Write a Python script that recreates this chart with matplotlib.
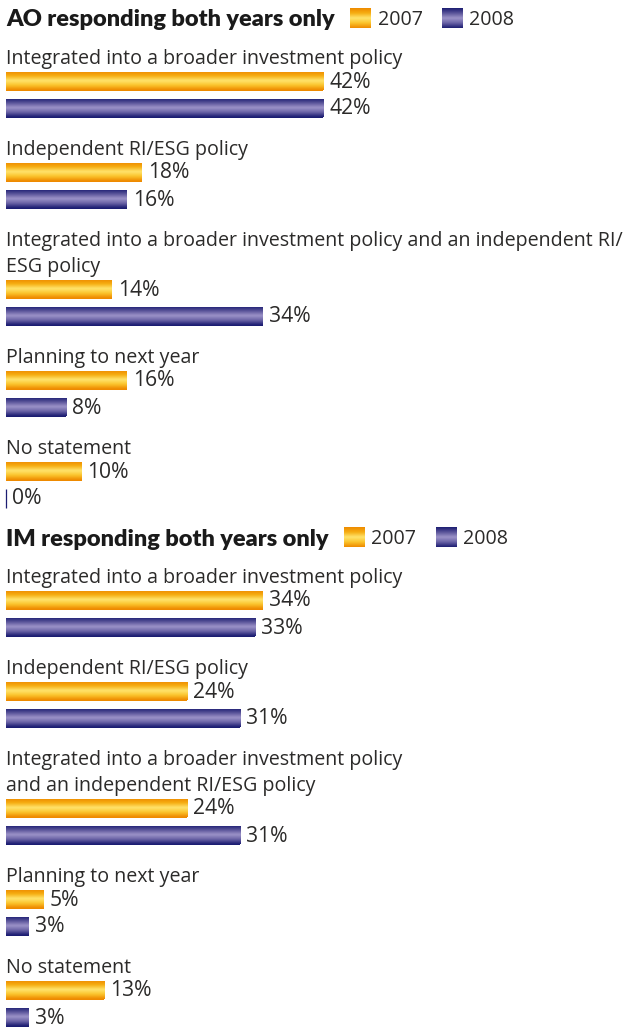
import numpy as np
import matplotlib
matplotlib.use("Agg")
import matplotlib.pyplot as plt
from matplotlib.colors import LinearSegmentedColormap

# ---- data ---------------------------------------------------------------
years = ["2007", "2008"]

ao_title = "AO responding both years only"
ao_categories = [
    "Integrated into a broader investment policy",
    "Independent RI/ESG policy",
    "Integrated into a broader investment policy and an independent RI/\nESG policy",
    "Planning to next year",
    "No statement",
]
ao_2007 = [42, 18, 14, 16, 10]
ao_2008 = [42, 16, 34, 8, 0]

im_title = "IM responding both years only"
im_categories = [
    "Integrated into a broader investment policy",
    "Independent RI/ESG policy",
    "Integrated into a broader investment policy\nand an independent RI/ESG policy",
    "Planning to next year",
    "No statement",
]
im_2007 = [34, 24, 24, 5, 13]
im_2008 = [33, 31, 31, 3, 3]

# ---- styling ------------------------------------------------------------
W, H, DPI = 629, 1027, 100
TEXT = "#2b2a29"
LABEL_FONT = ["Open Sans", "DejaVu Sans"]
TITLE_FONT = ["Lato", "DejaVu Sans"]
LABEL_SIZE = 14.1
VALUE_SIZE = 15.2
TITLE_SIZE = 16.9

orange_cmap = LinearSegmentedColormap.from_list(
    "orange", ["#ee8a00", "#f6ae12", "#ffe46e", "#fbc42c", "#ee8a00"])
purple_cmap = LinearSegmentedColormap.from_list(
    "purple", ["#1c1d72", "#5a5499", "#9d94c9", "#6a63a6", "#1c1d72"])
cmaps = [orange_cmap, purple_cmap]
edge_colors = ["#ee8a00", "#1c1d72"]

fig = plt.figure(figsize=(W / DPI, H / DPI), dpi=DPI)
ax = fig.add_axes([0, 0, 1, 1])
px_per_pct = 7.55
left_px = 6
ax.set_xlim(-left_px / px_per_pct, (W - left_px) / px_per_pct)
ax.set_ylim(H, 0)
ax.axis("off")

grad = np.linspace(0, 1, 64).reshape(-1, 1)
BAR_H = 19


def gradient_bar(y, value, k):
    bars = ax.barh([y], [value], height=BAR_H, left=0,
                   color=edge_colors[k], edgecolor=edge_colors[k],
                   linewidth=0.9 if value == 0 else 0)
    patch = bars.patches[0]
    if value > 0:
        im = ax.imshow(grad, cmap=cmaps[k], aspect="auto",
                       extent=[0, value, y + BAR_H / 2, y - BAR_H / 2],
                       interpolation="bicubic", zorder=3)
        im.set_clip_path(patch)
    ax.annotate(f"{value}%", xy=(value, y), xytext=(6, -1),
                textcoords="offset pixels", va="center", ha="left",
                fontsize=VALUE_SIZE, color=TEXT, family=LABEL_FONT)


def legend_square(x_px, y, k):
    x0 = (x_px - left_px) / px_per_pct
    x1 = x0 + 21 / px_per_pct
    ax.imshow(grad, cmap=cmaps[k], aspect="auto",
              extent=[x0, x1, y + 10, y - 10],
              interpolation="bicubic", zorder=3)


def panel(title, cats, v07, v08, y_title):
    t = ax.text(0, y_title + 2, title, fontsize=TITLE_SIZE, fontweight="heavy",
                family=TITLE_FONT, color="#1a1a1a", va="center", ha="left")
    fig.canvas.draw()
    x_end = t.get_window_extent().x1
    legend_square(x_end + 15, y_title, 0)
    ax.text((x_end + 43 - left_px) / px_per_pct, y_title + 2, years[0],
            fontsize=LABEL_SIZE, family=LABEL_FONT, color=TEXT, va="center")
    legend_square(x_end + 107, y_title, 1)
    ax.text((x_end + 134 - left_px) / px_per_pct, y_title + 2, years[1],
            fontsize=LABEL_SIZE, family=LABEL_FONT, color=TEXT, va="center")

    y = y_title + 38
    for cat, a, b in zip(cats, v07, v08):
        lines = cat.split("\n")
        for i, line in enumerate(lines):
            ax.text(0, y + 26 * i + 3, line, fontsize=LABEL_SIZE,
                    family=LABEL_FONT, color=TEXT, va="center", ha="left")
        y_last = y + 26 * (len(lines) - 1)
        gradient_bar(y_last + 25, a, 0)
        gradient_bar(y_last + 52, b, 1)
        y = y_last + 91
    return y


y_next = panel(ao_title, ao_categories, ao_2007, ao_2008, 18)
panel(im_title, im_categories, im_2007, im_2008, y_next)

fig.savefig("out.png", dpi=DPI)
